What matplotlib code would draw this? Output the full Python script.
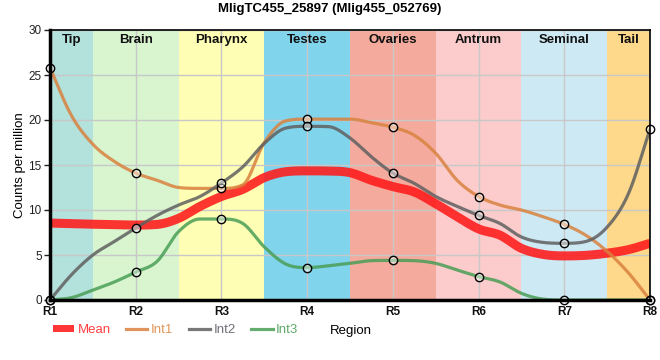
import numpy as np
import matplotlib
matplotlib.use("Agg")
import matplotlib.pyplot as plt
from matplotlib.lines import Line2D
from matplotlib.patches import Patch

plt.rcParams['font.family'] = ['Liberation Sans', 'DejaVu Sans']

# ---- data ----
regions = ["R1", "R2", "R3", "R4", "R5", "R6", "R7", "R8"]
bands = ["Tip", "Brain", "Pharynx", "Testes", "Ovaries", "Antrum", "Seminal", "Tail"]
band_colors = ["#b3e2dd", "#d8f5d0", "#fefeb4", "#80d4ec", "#f4aa9c", "#fccbcb", "#cdeaf4", "#fed98b"]

# profiles every quarter region (R1, R1.25, ..., R8);
# every 4th value is at a region position and carries a marker
samples_per_region = 4
int1 = [25.8, 20.5, 17.3, 15.4, 14.1, 13.3, 12.5, 12.4, 12.4, 12.8, 17.5, 19.9, 20.1, 20.1, 20.1,
        19.7, 19.2, 18.3, 16.3, 13.3, 11.5, 10.55, 10.0, 9.26, 8.4, 7.2, 5.4, 3.0, 0.0]
int2 = [0.0, 2.8, 5.0, 6.5, 8.0, 9.4, 10.55, 11.5, 13.0, 14.8, 17.4, 19.1, 19.3, 19.26, 18.0,
        15.9, 14.1, 12.96, 11.5, 10.4, 9.4, 8.5, 7.0, 6.4, 6.3, 6.5, 8.1, 11.85, 19.0]
int3 = [0.0, 0.26, 1.1, 2.0, 3.1, 4.3, 7.6, 9.0, 9.0, 8.5, 5.9, 4.0, 3.6, 3.8, 4.07,
        4.37, 4.4, 4.37, 4.07, 3.33, 2.6, 2.0, 0.74, 0.1, 0.0, 0.0, 0.0, 0.0, 0.0]
mean = [8.55, 8.48, 8.42, 8.37, 8.33, 8.4, 9.07, 10.4, 11.5, 12.3, 13.6, 14.25, 14.35, 14.33, 14.15,
        13.3, 12.6, 12.0, 10.7, 9.26, 7.9, 7.2, 5.74, 5.07, 4.9, 4.96, 5.2, 5.6, 6.3]

colors = {"Mean": "#ff1a1a", "Int1": "#d9823f", "Int2": "#606060", "Int3": "#4a9e56"}
text_colors = {"Mean": "#ff4040", "Int1": "#e0965a", "Int2": "#70707a", "Int3": "#5fa96a"}


def mono_spline(xk, yk, xs):
    """Monotone cubic Hermite (Fritsch-Carlson) with centred tangents."""
    xk = np.asarray(xk, float); yk = np.asarray(yk, float)
    h = np.diff(xk); d = np.diff(yk) / h
    n = len(xk); m = np.zeros(n)
    m[0] = d[0]; m[-1] = d[-1]
    for i in range(1, n - 1):
        if d[i - 1] * d[i] > 0:
            m[i] = (d[i - 1] + d[i]) / 2
    for i in range(n - 1):
        if d[i] == 0:
            m[i] = 0; m[i + 1] = 0
            continue
        a = m[i] / d[i]; b = m[i + 1] / d[i]
        s = a * a + b * b
        if s > 9:
            tau = 3 / np.sqrt(s)
            m[i] = tau * a * d[i]; m[i + 1] = tau * b * d[i]
    idx = np.clip(np.searchsorted(xk, xs) - 1, 0, n - 2)
    t = (xs - xk[idx]) / h[idx]
    h00 = 2 * t**3 - 3 * t**2 + 1; h10 = t**3 - 2 * t**2 + t
    h01 = -2 * t**3 + 3 * t**2; h11 = t**3 - t**2
    return (h00 * yk[idx] + h10 * h[idx] * m[idx] + h01 * yk[idx + 1] + h11 * h[idx] * m[idx + 1])


fig = plt.figure(figsize=(6.6, 3.6), dpi=100)
ax = fig.add_axes([50 / 660, 60 / 360, 600 / 660, 270 / 360])

x = np.arange(1, len(regions) + 1)
px = np.linspace(1, len(regions), (len(regions) - 1) * samples_per_region + 1)

# background bands
for i, (name, c) in enumerate(zip(bands, band_colors)):
    lo = max(1, x[i] - 0.5); hi = min(len(regions), x[i] + 0.5)
    ax.axvspan(lo, hi, color=c, lw=0, zorder=0)
    ax.text((lo + hi) / 2, 28.9, name, ha="center", va="center",
            fontsize=9.5, fontweight="bold", color="#111111", zorder=5)

ax.set_xlim(1, len(regions))
ax.set_ylim(0, 30)
ax.set_xticks(x)
ax.set_xticklabels(regions, fontweight="bold", fontsize=8.5)
ax.set_yticks(np.arange(0, 31, 5))
ax.tick_params(axis="y", labelsize=8.5, length=4, width=1, pad=2, colors="#222222")
ax.tick_params(axis="x", length=0, pad=4, colors="#111111")
ax.grid(True, color="#c8c8c8", lw=1, zorder=1)
ax.set_axisbelow(True)

xs_fine = np.linspace(1, len(regions), 800)
series = [("Mean", mean, 6.5), ("Int1", int1, 2.3), ("Int2", int2, 2.3), ("Int3", int3, 2.3)]
for name, vals, lw in series:
    ys = mono_spline(px, vals, xs_fine)
    ax.plot(xs_fine, ys, color=colors[name], lw=lw, alpha=0.85 if name != "Mean" else 0.88,
            solid_capstyle="butt", zorder=3 if name == "Mean" else 4, clip_on=True)
    if name != "Mean":
        ax.plot(px[::samples_per_region], vals[::samples_per_region], ls="none", marker="o",
                ms=6, mfc=(1, 1, 1, 0.45), mec="black", mew=1, zorder=6, clip_on=False)

for side in ["left", "bottom"]:
    ax.spines[side].set_linewidth(2.5)
for side in ["top", "right"]:
    ax.spines[side].set_linewidth(1.2)
for s in ax.spines.values():
    s.set_zorder(7)

fig.text(0.5, 1 - 9 / 360, "MligTC455_25897 (Mlig455_052769)", ha="center", va="center",
         fontsize=9.5, fontweight="bold")
fig.text(20 / 660, 1 - 165 / 360, "Counts per million", rotation=90, ha="center", va="center",
         fontsize=9.5)

handles = [Patch(facecolor=colors["Mean"], alpha=0.88, lw=0),
           Line2D([], [], color=colors["Int1"], lw=2.3, alpha=0.85),
           Line2D([], [], color=colors["Int2"], lw=2.3, alpha=0.85),
           Line2D([], [], color=colors["Int3"], lw=2.3, alpha=0.85)]
leg = fig.legend(handles, ["Mean", "Int1", "Int2", "Int3"], loc="center left",
                 bbox_to_anchor=(53 / 660, 1 - 330 / 360), ncol=4, frameon=False,
                 fontsize=9.5, handlelength=1.6, handleheight=0.5, handletextpad=0.25,
                 columnspacing=1.2, borderaxespad=0, borderpad=0)
for t in leg.get_texts():
    t.set_color(text_colors[t.get_text()])
fig.text(351 / 660, 1 - 331 / 360, "Region", ha="center", va="center", fontsize=9.5)

fig.savefig("out.png", dpi=100)
